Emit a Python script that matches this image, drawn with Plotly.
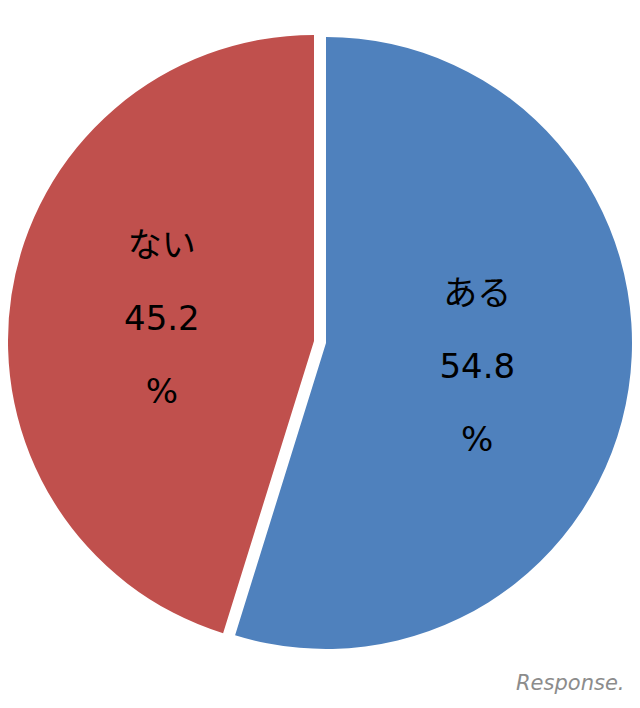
import plotly.graph_objects as go

labels = ["ある", "ない"]
values = [54.8, 45.2]
colors = ["#4F81BD", "#C0504D"]
watermark = "Response."

def label_text(lab, val):
    big = "<span style='font-size:34px'>{}</span>"
    return big.format(lab) + "<br><br>" + big.format(f"{val}") + "<br><br>" + big.format("%")

fig = go.Figure()

# Two pie traces: each shows one slice (the other slice transparent) so the
# "ない" slice can be offset (exploded) while keeping the same radius.
domains = [
    dict(x=[0.019231, 1.0], y=[0.073699, 0.958092]),
    dict(x=[0.0, 0.980769], y=[0.076590, 0.960983]),
]
for i in range(len(labels)):
    slice_colors = [colors[j] if j == i else "rgba(0,0,0,0)" for j in range(len(labels))]
    templates = [label_text(labels[j], values[j]) if j == i else "" for j in range(len(labels))]
    fig.add_trace(go.Pie(
        labels=labels,
        values=values,
        sort=False,
        direction="clockwise",
        rotation=0,
        marker=dict(colors=slice_colors, line=dict(width=0)),
        texttemplate=templates,
        textposition="inside",
        insidetextorientation="horizontal",
        insidetextfont=dict(family="DejaVu Sans, Noto Sans CJK JP", size=28, color="black"),
        domain=domains[i],
        hoverinfo="label+percent",
        showlegend=False,
    ))

fig.add_annotation(
    text="<i>" + watermark + "</i>",
    xref="paper", yref="paper", x=0.99, y=0.004,
    xanchor="right", yanchor="bottom", showarrow=False,
    font=dict(family="DejaVu Sans", size=21, color="#8c8c8c"),
)

fig.update_layout(
    width=624, height=692,
    margin=dict(l=0, r=0, t=0, b=0),
    paper_bgcolor="white",
    plot_bgcolor="white",
    showlegend=False,
)

fig.write_html("out.html")
